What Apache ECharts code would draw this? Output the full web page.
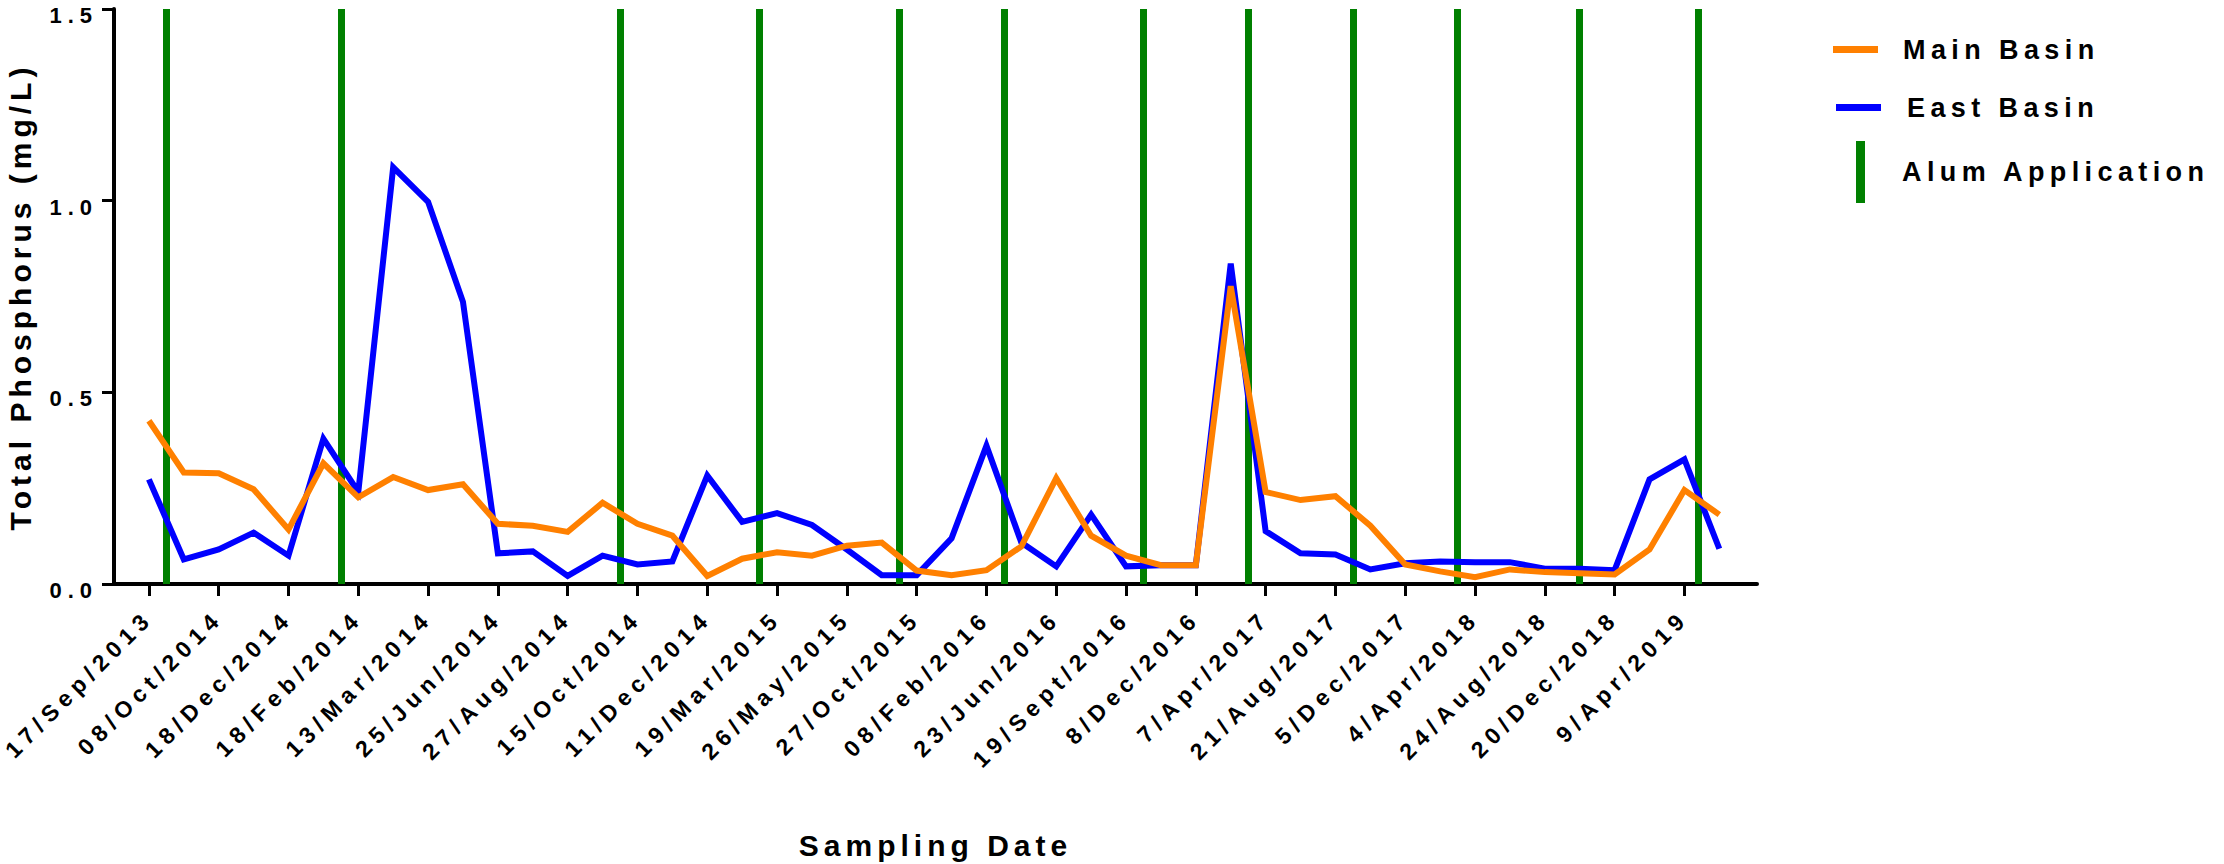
<!DOCTYPE html>
<html>
<head>
<meta charset="utf-8">
<script src="https://cdn.jsdelivr.net/npm/echarts@6/dist/echarts.min.js"></script>
<style>
  html, body { margin: 0; padding: 0; background: #fff; }
  #chart { width: 2224px; height: 864px; }
  /* widely tracked lettering used throughout the figure */
  #chart text { letter-spacing: 0.2em; }
  #chart text[style*="22px"] { letter-spacing: 6px; }   /* value-axis labels */
  #chart text[style*="23px"] { letter-spacing: 6px; }   /* date labels */
  #chart text[style*="30px"] { letter-spacing: 5px; }   /* axis titles */
  #chart text[style*="27px"] { letter-spacing: 5.4px; } /* legend */
</style>
</head>
<body>
<div id="chart"></div>
<script>
// Sampling-date labels, one per labelled tick (every second sample)
const tickLabels = [
  '17/Sep/2013', '08/Oct/2014', '18/Dec/2014', '18/Feb/2014', '13/Mar/2014',
  '25/Jun/2014', '27/Aug/2014', '15/Oct/2014', '11/Dec/2014', '19/Mar/2015',
  '26/May/2015', '27/Oct/2015', '08/Feb/2016', '23/Jun/2016', '19/Sept/2016',
  '8/Dec/2016', '7/Apr/2017', '21/Aug/2017', '5/Dec/2017', '4/Apr/2018',
  '24/Aug/2018', '20/Dec/2018', '9/Apr/2019'
];

// Total phosphorus (mg/L), one value per sampling event
const mainBasin = [
  0.426, 0.291, 0.289, 0.247, 0.142, 0.315, 0.226, 0.279, 0.245, 0.260,
  0.157, 0.152, 0.136, 0.212, 0.157, 0.126, 0.021, 0.066, 0.083, 0.074,
  0.100, 0.108, 0.035, 0.023, 0.036, 0.098, 0.276, 0.126, 0.074, 0.049,
  0.049, 0.777, 0.240, 0.219, 0.229, 0.152, 0.051, 0.033, 0.018, 0.038,
  0.031, 0.028, 0.025, 0.090, 0.245, 0.181
];
const eastBasin = [
  0.273, 0.064, 0.090, 0.134, 0.074, 0.379, 0.240, 1.087, 0.997, 0.736,
  0.080, 0.085, 0.021, 0.074, 0.051, 0.059, 0.283, 0.162, 0.185, 0.154,
  0.090, 0.023, 0.023, 0.119, 0.361, 0.108, 0.046, 0.181, 0.046, 0.049,
  0.049, 0.836, 0.138, 0.080, 0.077, 0.038, 0.054, 0.059, 0.057, 0.057,
  0.040, 0.040, 0.036, 0.273, 0.325, 0.092
];

// Alum treatments, placed on the sampling-index scale
const alumApplications = [0.5, 5.5, 13.5, 17.5, 21.5, 24.5, 28.5, 31.5, 34.5, 37.5, 41, 44.4];

const yTicks = [0, 0.5, 1.0, 1.5];

const FONT = 'Liberation Sans';
const labelledIdx = tickLabels.map((_, i) => i * 2);
const toPairs = arr => arr.map((v, i) => [i, v]);

const chart = echarts.init(document.getElementById('chart'), null, { renderer: 'svg' });

const legendText = pad => ({
  fontFamily: FONT, fontWeight: 'bold', fontSize: 27, color: '#000', padding: pad
});

chart.setOption({
  animation: false,
  backgroundColor: '#ffffff',
  grid: { left: 114, top: 9, width: 1643, height: 575, containLabel: false, outerBoundsMode: 'none' },
  legend: [
    {
      data: ['Main Basin'], left: 1833, top: 36, padding: 0,
      icon: 'rect', itemWidth: 45, itemHeight: 7, selectedMode: false,
      textStyle: legendText([7, 0, 0, 20])
    },
    {
      data: ['East Basin'], left: 1836, top: 94, padding: 0,
      icon: 'rect', itemWidth: 45, itemHeight: 7, selectedMode: false,
      textStyle: legendText([8, 0, 0, 21])
    },
    {
      data: ['Alum Application'], left: 1856, top: 141, padding: 0,
      icon: 'rect', itemWidth: 9, itemHeight: 62, selectedMode: false,
      textStyle: legendText([8, 0, 0, 32])
    }
  ],
  xAxis: {
    type: 'value',
    min: -1,
    max: 46.08,
    splitLine: { show: false },
    axisLine: { onZero: false, lineStyle: { color: '#000', width: 4 } },
    axisTick: { customValues: labelledIdx, length: 12, lineStyle: { color: '#000', width: 3 } },
    axisLabel: {
      customValues: labelledIdx,
      rotate: 45,
      margin: 30,
      formatter: v => tickLabels[Math.round(v / 2)],
      fontFamily: FONT, fontWeight: 'bold', fontSize: 23, color: '#000'
    },
    name: 'Sampling Date',
    nameLocation: 'middle',
    nameGap: 246,
    nameTextStyle: { fontFamily: FONT, fontWeight: 'bold', fontSize: 30, color: '#000' }
  },
  yAxis: {
    type: 'value',
    min: yTicks[0],
    max: yTicks[yTicks.length - 1],
    interval: 0.5,
    splitLine: { show: false },
    axisLine: { show: true, onZero: false, lineStyle: { color: '#000', width: 4 } },
    axisTick: { show: true, length: 12, lineStyle: { color: '#000', width: 3 } },
    axisLabel: {
      margin: 16,
      verticalAlign: 'top',
      lineHeight: 13,
      formatter: v => v.toFixed(1),
      fontFamily: FONT, fontWeight: 'bold', fontSize: 22, color: '#000'
    },
    name: 'Total Phosphorus (mg/L)',
    nameLocation: 'middle',
    nameGap: 79,
    nameTextStyle: { fontFamily: FONT, fontWeight: 'bold', fontSize: 30, color: '#000' }
  },
  series: [
    {
      name: 'Alum Application',
      type: 'line',
      color: '#008000',
      data: [],
      z: 1,
      markLine: {
        z: 1,
        silent: true,
        symbol: 'none',
        label: { show: false },
        lineStyle: { color: '#008000', width: 7, type: 'solid' },
        emphasis: { disabled: true },
        data: alumApplications.map(x => ({ xAxis: x }))
      }
    },
    {
      name: 'East Basin',
      type: 'line',
      color: '#0000ff',
      z: 3,
      showSymbol: false,
      lineStyle: { color: '#0000ff', width: 6, join: 'miter', cap: 'butt' },
      data: toPairs(eastBasin)
    },
    {
      name: 'Main Basin',
      type: 'line',
      color: '#ff8000',
      z: 4,
      showSymbol: false,
      lineStyle: { color: '#ff8000', width: 6, join: 'miter', cap: 'butt' },
      data: toPairs(mainBasin)
    }
  ]
});
</script>
</body>
</html>
